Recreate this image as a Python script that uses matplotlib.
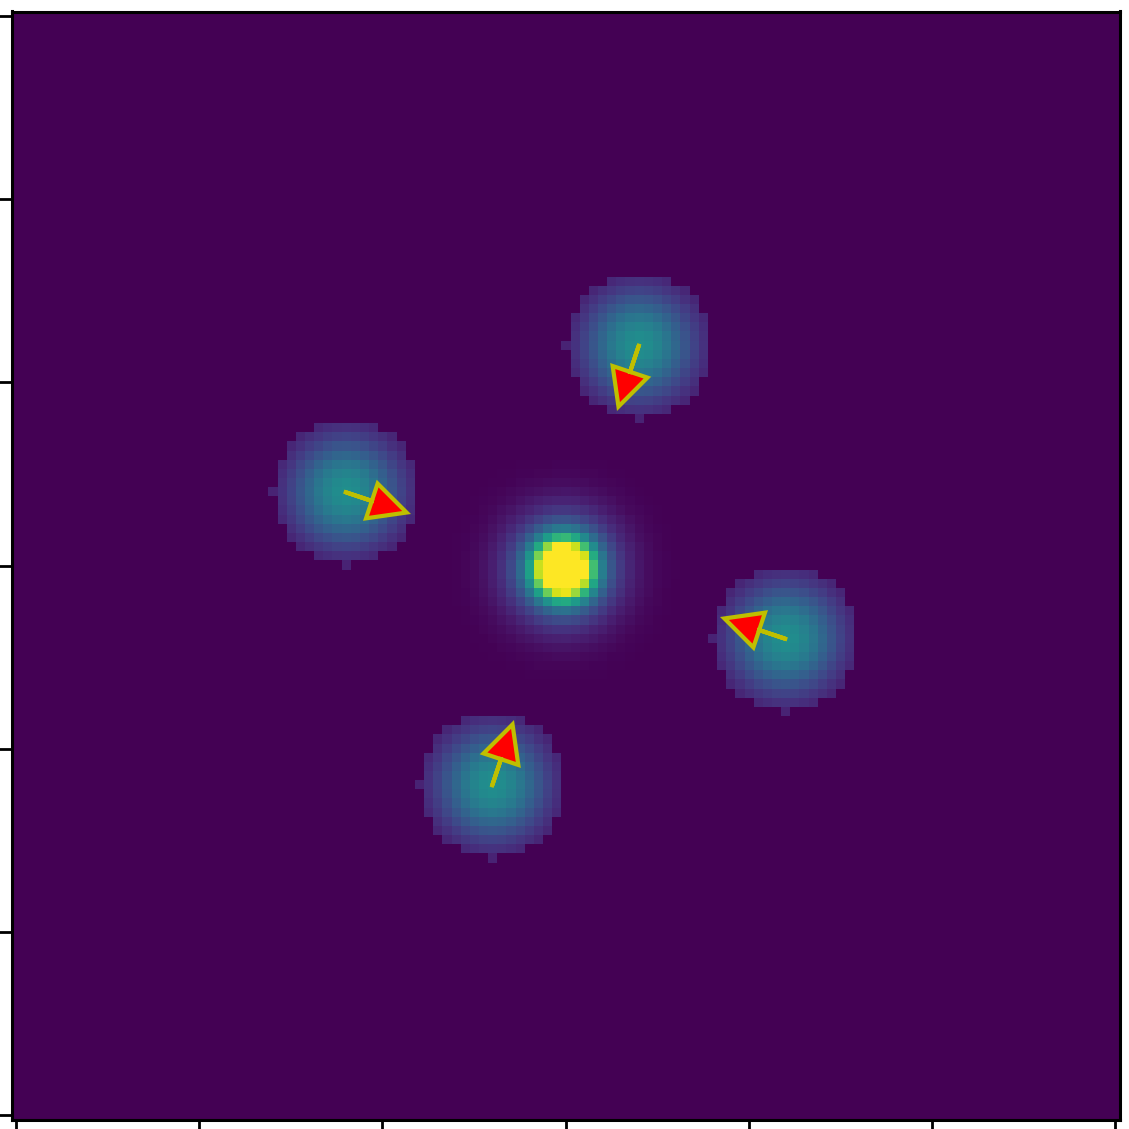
from __future__ import annotations

import matplotlib

matplotlib.use("Agg")
import matplotlib.pyplot as plt
import numpy as np


GRID_SIZE = 121

# bright central spot (pixel coords, y grows downward)
core_x = 59.7
core_y = 60.4
core_amps = [1.2, 0.6]
core_sigmas = [1.95, 3.9]

# the four dim discs around it
blob_x = [68, 36, 84, 52]
blob_y = [36, 52, 68, 84]
blob_peak = 0.5
blob_sigma = 4.44
blob_radius = 8.0
blob_nudge = (-0.01, 0.01)

# arrow vectors drawn from each disc centre
arrow_dx = [-0.95, 2.85, -2.85, 0.95]
arrow_dy = [2.85, 0.95, -0.95, -2.85]

tick_values = [0, 20, 40, 60, 80, 100, 120]


def build_field(n: int) -> np.ndarray:
    yy, xx = np.mgrid[0:n, 0:n].astype(float)
    field = np.zeros((n, n))

    r2 = (xx - core_x) ** 2 + (yy - core_y) ** 2
    for amp, sig in zip(core_amps, core_sigmas):
        field += amp * np.exp(-r2 / (2 * sig**2))

    for bx, by in zip(blob_x, blob_y):
        d2 = (xx - bx - blob_nudge[0]) ** 2 + (yy - by - blob_nudge[1]) ** 2
        disc = d2 <= blob_radius**2
        field += np.where(disc, blob_peak * np.exp(-d2 / (2 * blob_sigma**2)), 0.0)
    return field


def main() -> None:
    px = 1129
    fig = plt.figure(figsize=(px / 100, px / 100), dpi=100)
    ax = fig.add_axes([11.5 / px, 9.5 / px, 1108 / px, 1108 / px])

    field = build_field(GRID_SIZE)
    ax.imshow(field, cmap="viridis", vmin=0.0, vmax=1.0, interpolation="nearest")

    for bx, by, dx, dy in zip(blob_x, blob_y, arrow_dx, arrow_dy):
        ax.arrow(
            bx, by, dx, dy,
            head_width=4, head_length=4,
            fc="red", ec="y", lw=3,
        )

    ax.set_xlim(-0.5, GRID_SIZE - 0.5)
    ax.set_ylim(GRID_SIZE - 0.5, -0.5)
    ax.set_xticks(tick_values)
    ax.set_yticks(tick_values)
    ax.set_xticklabels([])
    ax.set_yticklabels([])
    ax.tick_params(length=10, width=2)
    for spine in ax.spines.values():
        spine.set_linewidth(2.2)

    fig.savefig("out.png", dpi=100)
    plt.close(fig)


if __name__ == "__main__":
    main()
